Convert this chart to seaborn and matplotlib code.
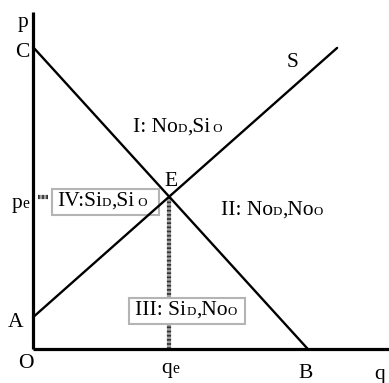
import numpy as np
import pandas as pd
import matplotlib
matplotlib.use("Agg")
import matplotlib.pyplot as plt
import seaborn as sns
from matplotlib.patches import Rectangle
from matplotlib.transforms import offset_copy, Bbox

# market data (arbitrary units)
demand_q = [0.0, 9.1]     # from C down to B
demand_p = [10.0, 0.0]
supply_q = [0.0, 10.07]   # from A up to the end of S
supply_p = [1.05, 9.97]
axis_q_max = 11.8
axis_p_max = 11.15

# region labels: (pieces, pixel centre x, pixel baseline, box pads left/right)
regions = [
    ([("I: No", 0), ("D", 1), (",Si", 0), (" O", 1)], 178, 132, None),
    ([("II: No", 0), ("D", 1), (",No", 0), ("O", 1)], 272, 215, None),
    ([("IV:Si", 0), ("D", 1), (",Si", 0), (" O", 1)], 102, 206, (5, 12)),
    ([("III: Si", 0), ("D", 1), (",No", 0), ("O", 1)], 186, 315, (6, 8)),
]

# equilibrium from the two lines
d_slope = (demand_p[1] - demand_p[0]) / (demand_q[1] - demand_q[0])
s_slope = (supply_p[1] - supply_p[0]) / (supply_q[1] - supply_q[0])
q_e = (supply_p[0] - demand_p[0]) / (d_slope - s_slope)
p_e = supply_p[0] + s_slope * q_e

sns.set_theme(style="white")
SERIF = ["Liberation Serif", "DejaVu Serif"]
plt.rcParams["font.family"] = SERIF

DPI = 100
SCALE = 30.2   # px per unit
OX, OY = 33, 349
FS = 15.5
fig = plt.figure(figsize=(3.89, 3.83), dpi=DPI)
ax = fig.add_axes([0, 0, 1, 1])
ax.set_xlim(-OX / SCALE, (389 - OX) / SCALE)
ax.set_ylim(-(383 - OY) / SCALE, OY / SCALE)
ax.axis("off")
renderer = fig.canvas.get_renderer()


def px(x, y):
    return (x - OX) / SCALE, (OY - y) / SCALE


def rich_text(x, y, parts, size=FS, sub=0.6, dx=0, dy=0, center=False):
    # draw text pieces one after another, small pieces sit on the baseline
    if center:
        w = 0
        for s, small in parts:
            t = ax.text(0, 0, s, fontsize=size * sub if small else size)
            w += t.get_window_extent(renderer).width
            t.remove()
        dx -= w / 2
    off = dx * 72 / DPI
    boxes = []
    for s, small in parts:
        fs = size * sub if small else size
        tr = offset_copy(ax.transData, fig=fig, x=off, y=dy * 72 / DPI, units="points")
        t = ax.text(x, y, s, fontsize=fs, transform=tr, ha="left",
                    va="baseline", color="black", zorder=5)
        bb = t.get_window_extent(renderer)
        off += bb.width * 72 / DPI
        boxes.append(bb)
    return Bbox.union(boxes)


# axes
ax.plot([0, 0], [0, axis_p_max], color="black", lw=2.3, solid_capstyle="butt", zorder=4)
ax.plot([0, axis_q_max], [0, 0], color="black", lw=2.3, solid_capstyle="butt", zorder=4)

# demand and supply
df = pd.DataFrame({
    "q": demand_q + supply_q,
    "p": demand_p + supply_p,
    "curve": ["D", "D", "S", "S"],
})
sns.lineplot(data=df, x="q", y="p", units="curve", estimator=None, sort=False,
             color="black", lw=1.7, ax=ax, zorder=3)

# equilibrium guides (hatched grey)
for col, dash in [("#a0a0a0", None), ("#303030", (0.4, 0.6))]:
    kw = dict(color=col, lw=3.0, solid_capstyle="butt", zorder=1)
    if dash:
        kw["dashes"] = dash
    ax.plot([q_e, q_e], [0, p_e], **kw)
    ax.plot([0.17, 0.5], [p_e, p_e], **kw)

# point labels
rich_text(0, axis_p_max, [("p", 0)], dx=-15, dy=-15)
rich_text(0, demand_p[0], [("C", 0)], dx=-18, dy=-10)
rich_text(0, p_e, [("p", 0), ("e", 1)], sub=0.72, dx=-21, dy=-11)
rich_text(0, supply_p[0], [("A", 0)], dx=-25, dy=-10)
rich_text(0, 0, [("O", 0)], dx=-15, dy=-19)
rich_text(q_e, 0, [("q", 0), ("e", 1)], sub=0.72, dx=-8, dy=-24)
rich_text(demand_q[1], 0, [("B", 0)], dx=-9, dy=-29)
rich_text(axis_q_max, 0, [("q", 0)], dx=-15, dy=-30)
rich_text(supply_q[1], supply_p[1], [("S", 0)], dx=-50, dy=-19)
rich_text(q_e, p_e, [("E", 0)], dx=-5, dy=11)

# region labels
inv = ax.transData.inverted()
for parts, cx, ly, pads in regions:
    x, y = px(cx, ly)
    bb = rich_text(x, y, parts, center=True)
    if pads:
        x0, y0 = inv.transform((bb.x0 - pads[0], bb.y0 - 4))
        x1, y1 = inv.transform((bb.x1 + pads[1], bb.y1 + 3))
        ax.add_patch(Rectangle((x0, y0), x1 - x0, y1 - y0, facecolor="white",
                               edgecolor="#b4b4b4", lw=1.5, zorder=2))

fig.savefig("out.png", dpi=DPI)
